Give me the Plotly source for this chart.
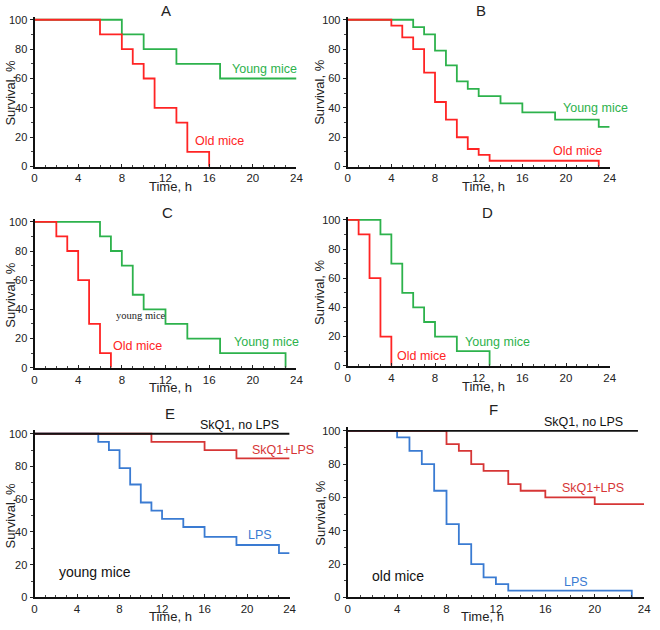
import plotly.graph_objects as go

W, H = 660, 630

# ---------------- data ----------------
# Panel A
a_young_t = [0, 8, 10, 13, 17, 24]
a_young_s = [100, 90, 80, 70, 60, 60]
a_old_t = [0, 6, 8, 9, 10, 11, 13, 14, 16]
a_old_s = [100, 90, 80, 70, 60, 40, 30, 10, 0]
# Panel B
b_young_t = [0, 6, 7, 8, 9, 10, 11, 12, 14, 16, 19, 23, 24]
b_young_s = [100, 95, 90, 79, 69, 58, 53, 48, 43, 37, 32, 27, 27]
b_old_t = [0, 4, 5, 6, 7, 8, 9, 10, 11, 12, 13, 23]
b_old_s = [100, 96, 88, 80, 64, 44, 32, 20, 12, 8, 4, 0]
# Panel C
c_young_t = [0, 6, 7, 8, 9, 10, 12, 14, 17, 23]
c_young_s = [100, 90, 80, 70, 50, 40, 30, 20, 10, 0]
c_old_t = [0, 2, 3, 4, 5, 6, 7]
c_old_s = [100, 90, 80, 60, 30, 10, 0]
# Panel D
d_young_t = [0, 3, 4, 5, 6, 7, 8, 10, 13]
d_young_s = [100, 90, 70, 50, 40, 30, 20, 10, 0]
d_old_t = [0, 1, 2, 3, 4]
d_old_s = [100, 90, 60, 20, 0]
# Panel E (young mice)
e_nolps_t = [0, 24]
e_nolps_s = [100, 100]
e_skq_t = [0, 11, 16, 19, 24]
e_skq_s = [100, 95, 90, 85, 85]
e_lps_t = [0, 6, 7, 8, 9, 10, 11, 12, 14, 16, 19, 23, 24]
e_lps_s = [100, 95, 90, 79, 69, 58, 53, 48, 43, 37, 32, 27, 27]
# Panel F (old mice)
f_nolps_t = [0, 23.5]
f_nolps_s = [100, 100]
f_skq_t = [0, 8, 9, 10, 11, 13, 14, 16, 20, 24]
f_skq_s = [100, 92, 88, 80, 76, 68, 64, 60, 56, 56]
f_lps_t = [0, 4, 5, 6, 7, 8, 9, 10, 11, 12, 13, 23]
f_lps_s = [100, 96, 88, 80, 64, 44, 32, 20, 12, 8, 4, 0]

x_ticks = [0, 4, 8, 12, 16, 20, 24]
y_ticks = [0, 20, 40, 60, 80, 100]

RED = "#ff2424"
GREEN = "#2db24c"
RED2 = "#d63636"
BLUE = "#3a7bd2"
BLACK = "#111111"

# ---------------- layout helpers ----------------
# pixel boxes: (x of t=0, x of t=24, y of s=0, y of s=100)
boxes = {
    1: (32, 298, 166, 17),
    2: (350, 616, 166, 17),
    3: (32, 298, 370, 222),
    4: (350, 616, 368, 220),
    5: (32, 291, 603, 437),
    6: (350, 651, 603, 434),
}
YTOP = 102


def dom_x(b):
    return [b[0] / W, b[1] / W]


def dom_y(b):
    top = b[3] - (b[2] - b[3]) * (YTOP - 100) / 100
    return [1 - b[2] / H, 1 - top / H]


FONT = "Liberation Sans, Arial, sans-serif"
fig = go.Figure()


def add(t, s, color, k):
    sfx = "" if k == 1 else str(k)
    fig.add_trace(go.Scatter(x=t, y=s, mode="lines", line=dict(color=color, width=1.8, shape="hv"),
                             xaxis="x" + sfx, yaxis="y" + sfx, showlegend=False, hoverinfo="skip"))


add(a_young_t, a_young_s, GREEN, 1)
add(a_old_t, a_old_s, RED, 1)
add(b_young_t, b_young_s, GREEN, 2)
add(b_old_t, b_old_s, RED, 2)
add(c_young_t, c_young_s, GREEN, 3)
add(c_old_t, c_old_s, RED, 3)
add(d_young_t, d_young_s, GREEN, 4)
add(d_old_t, d_old_s, RED, 4)
add(e_lps_t, e_lps_s, BLUE, 5)
add(e_skq_t, e_skq_s, RED2, 5)
add(e_nolps_t, e_nolps_s, BLACK, 5)
add(f_lps_t, f_lps_s, BLUE, 6)
add(f_skq_t, f_skq_s, RED2, 6)
add(f_nolps_t, f_nolps_s, BLACK, 6)

layout = dict(
    width=W, height=H, margin=dict(l=0, r=0, t=0, b=0),
    paper_bgcolor="white", plot_bgcolor="white",
    font=dict(family=FONT, color="#222", size=11),
    showlegend=False,
)
for k, b in boxes.items():
    sfx = "" if k == 1 else str(k)
    layout["xaxis" + sfx] = dict(
        domain=dom_x(b), range=[0, 24], anchor="y" + sfx,
        tickvals=x_ticks, ticks="inside", ticklen=3, tickwidth=1, tickcolor="#222",
        minor=dict(dtick=1, tick0=0, ticks="inside", ticklen=2, tickcolor="#444"),
        showline=True, linecolor="#111", linewidth=2, showgrid=False, zeroline=False,
        tickfont=dict(size=11.5, family=FONT, color="#222"), fixedrange=True,
    )
    layout["yaxis" + sfx] = dict(
        domain=dom_y(b), range=[0, YTOP], anchor="x" + sfx,
        tickvals=y_ticks, ticks="outside", ticklen=3, tickwidth=1, tickcolor="#222",
        minor=dict(dtick=10, tick0=0, ticks="outside", ticklen=2, tickcolor="#444"),
        showline=True, linecolor="#111", linewidth=2, showgrid=False, zeroline=False,
        tickfont=dict(size=11, family=FONT, color="#222"), fixedrange=True,
    )

anns = []


def px_ann(text, x, y, size=12.5, color="#222", xanchor="center", angle=0, family=FONT):
    anns.append(dict(text=text, x=x / W, y=1 - y / H, xref="paper", yref="paper",
                     xanchor=xanchor, yanchor="middle", showarrow=False, textangle=angle,
                     font=dict(size=size, color=color, family=family)))


# panel letters
for lab, x, y in [("A", 165, 8), ("B", 485, 8), ("C", 167, 213), ("D", 492, 213), ("E", 170, 416), ("F", 498, 412)]:
    px_ann(lab, x, y, size=15)

# axis titles
for x, y in [(170, 186), (488, 186), (170, 390), (488, 389), (170, 622), (487, 622)]:
    px_ann("Time, h", x, y, size=13)
for x, y in [(8, 91), (322, 91), (8, 296), (322, 294), (8, 520), (322, 518)]:
    px_ann("Survival, %", x, y, size=13, angle=-90)

# curve labels
px_ann("Young mice", 230, 67, color=GREEN, xanchor="left")
px_ann("Old mice", 193, 140, color=RED, xanchor="left")
px_ann("Young mice", 567, 107, color=GREEN, xanchor="left")
px_ann("Old mice", 556, 150, color=RED, xanchor="left")
px_ann("Young mice", 233, 344, color=GREEN, xanchor="left")
px_ann("Old mice", 110, 348, color=RED, xanchor="left")
px_ann("young mice", 113, 317, size=10.5, color="#222", xanchor="left", family="Liberation Serif, Times New Roman, serif")
px_ann("Young mice", 467, 344, color=GREEN, xanchor="left")
px_ann("Old mice", 398, 358, color=RED, xanchor="left")
px_ann("SkQ1, no LPS", 198, 428, color="#111", xanchor="left")
px_ann("SkQ1+LPS", 251, 453, color=RED2, xanchor="left")
px_ann("LPS", 247, 540, color=BLUE, xanchor="left")
px_ann("young mice", 55, 577, size=14, color="#111", xanchor="left")
px_ann("SkQ1, no LPS", 547, 425, color="#111", xanchor="left")
px_ann("SkQ1+LPS", 566, 492, color=RED2, xanchor="left")
px_ann("LPS", 568, 587, color=BLUE, xanchor="left")
px_ann("old mice", 373, 581, size=14, color="#111", xanchor="left")

layout["annotations"] = anns
fig.update_layout(**layout)
fig.write_html("out.html", config={"displayModeBar": False},
               post_script="document.body.style.margin='0';document.body.style.overflow='hidden';")
